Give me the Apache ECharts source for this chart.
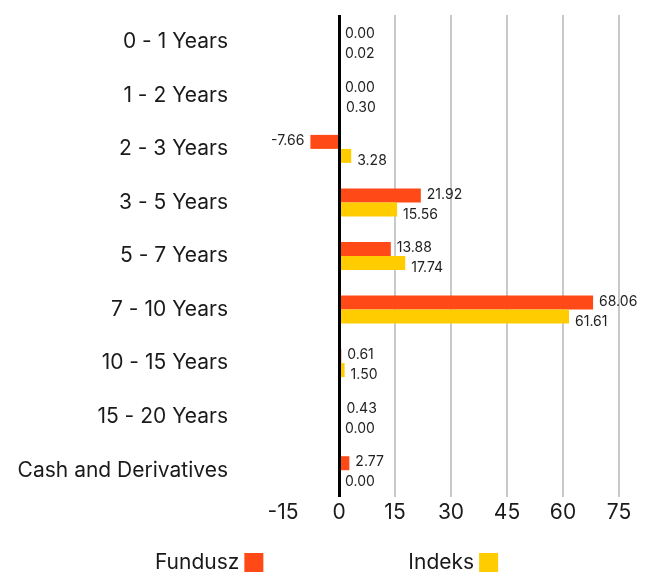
<!DOCTYPE html>
<html><head><meta charset="utf-8">
<script src="https://cdn.jsdelivr.net/npm/echarts@6/dist/echarts.min.js"></script>
<style>html,body{margin:0;padding:0;background:#fff}#c{width:653px;height:580px}</style>
</head><body><div id="c"></div>
<script>
const categories = ['0 - 1 Years','1 - 2 Years','2 - 3 Years','3 - 5 Years','5 - 7 Years','7 - 10 Years','10 - 15 Years','15 - 20 Years','Cash and Derivatives'];
const fundusz = [0.00, 0.00, -7.66, 21.92, 13.88, 68.06, 0.61, 0.43, 2.77];
const indeks = [0.02, 0.30, 3.28, 15.56, 17.74, 61.61, 1.50, 0.00, 0.00];
const xTicks = {min: -15, max: 75, interval: 15};
const FONT = 'Inter, "Open Sans", sans-serif';

function mk(arr, dy) {
  return arr.map(v => ({value: v, label: {position: v < 0 ? 'left' : 'right', offset: [0, dy]}}));
}
const chart = echarts.init(document.getElementById('c'));
chart.setOption({
  animation: false,
  textStyle: {fontFamily: FONT},
  grid: {left: 283, right: 34, top: 15, bottom: 83, containLabel: false},
  legend: {
    bottom: 2, left: 'center', align: 'right', itemGap: 145,
    itemWidth: 19, itemHeight: 19, icon: 'rect',
    textStyle: {fontSize: 21, color: '#1a1a1a', fontFamily: FONT},
    data: ['Fundusz', 'Indeks']
  },
  xAxis: {
    type: 'value', min: xTicks.min, max: xTicks.max, interval: xTicks.interval,
    axisLine: {show: false}, axisTick: {show: false},
    axisLabel: {fontSize: 21, color: '#1a1a1a', margin: 5, fontFamily: FONT},
    splitLine: {show: true, showMinLine: false, lineStyle: {color: '#c8c8c8', width: 2}}
  },
  yAxis: {
    type: 'category', data: categories, inverse: true,
    axisLine: {show: false}, axisTick: {show: false},
    axisLabel: {fontSize: 21, color: '#1a1a1a', margin: 55, fontFamily: FONT}
  },
  series: [
    {
      name: 'Fundusz', type: 'bar', data: mk(fundusz, -1), barWidth: 14, barGap: '0%',
      itemStyle: {color: '#ff4a17'},
      label: {show: true, distance: 6, fontSize: 14, color: '#222', fontFamily: FONT,
        formatter: p => p.value.toFixed(2)},
      markLine: {silent: true, symbol: 'none', label: {show: false},
        lineStyle: {color: '#000', width: 3, type: 'solid'}, data: [{xAxis: 0}]}
    },
    {
      name: 'Indeks', type: 'bar', data: mk(indeks, 5), barWidth: 14, barGap: '0%',
      itemStyle: {color: '#ffcc00'},
      label: {show: true, distance: 6, fontSize: 14, color: '#222', fontFamily: FONT,
        formatter: p => p.value.toFixed(2)}
    }
  ]
});
</script></body></html>
